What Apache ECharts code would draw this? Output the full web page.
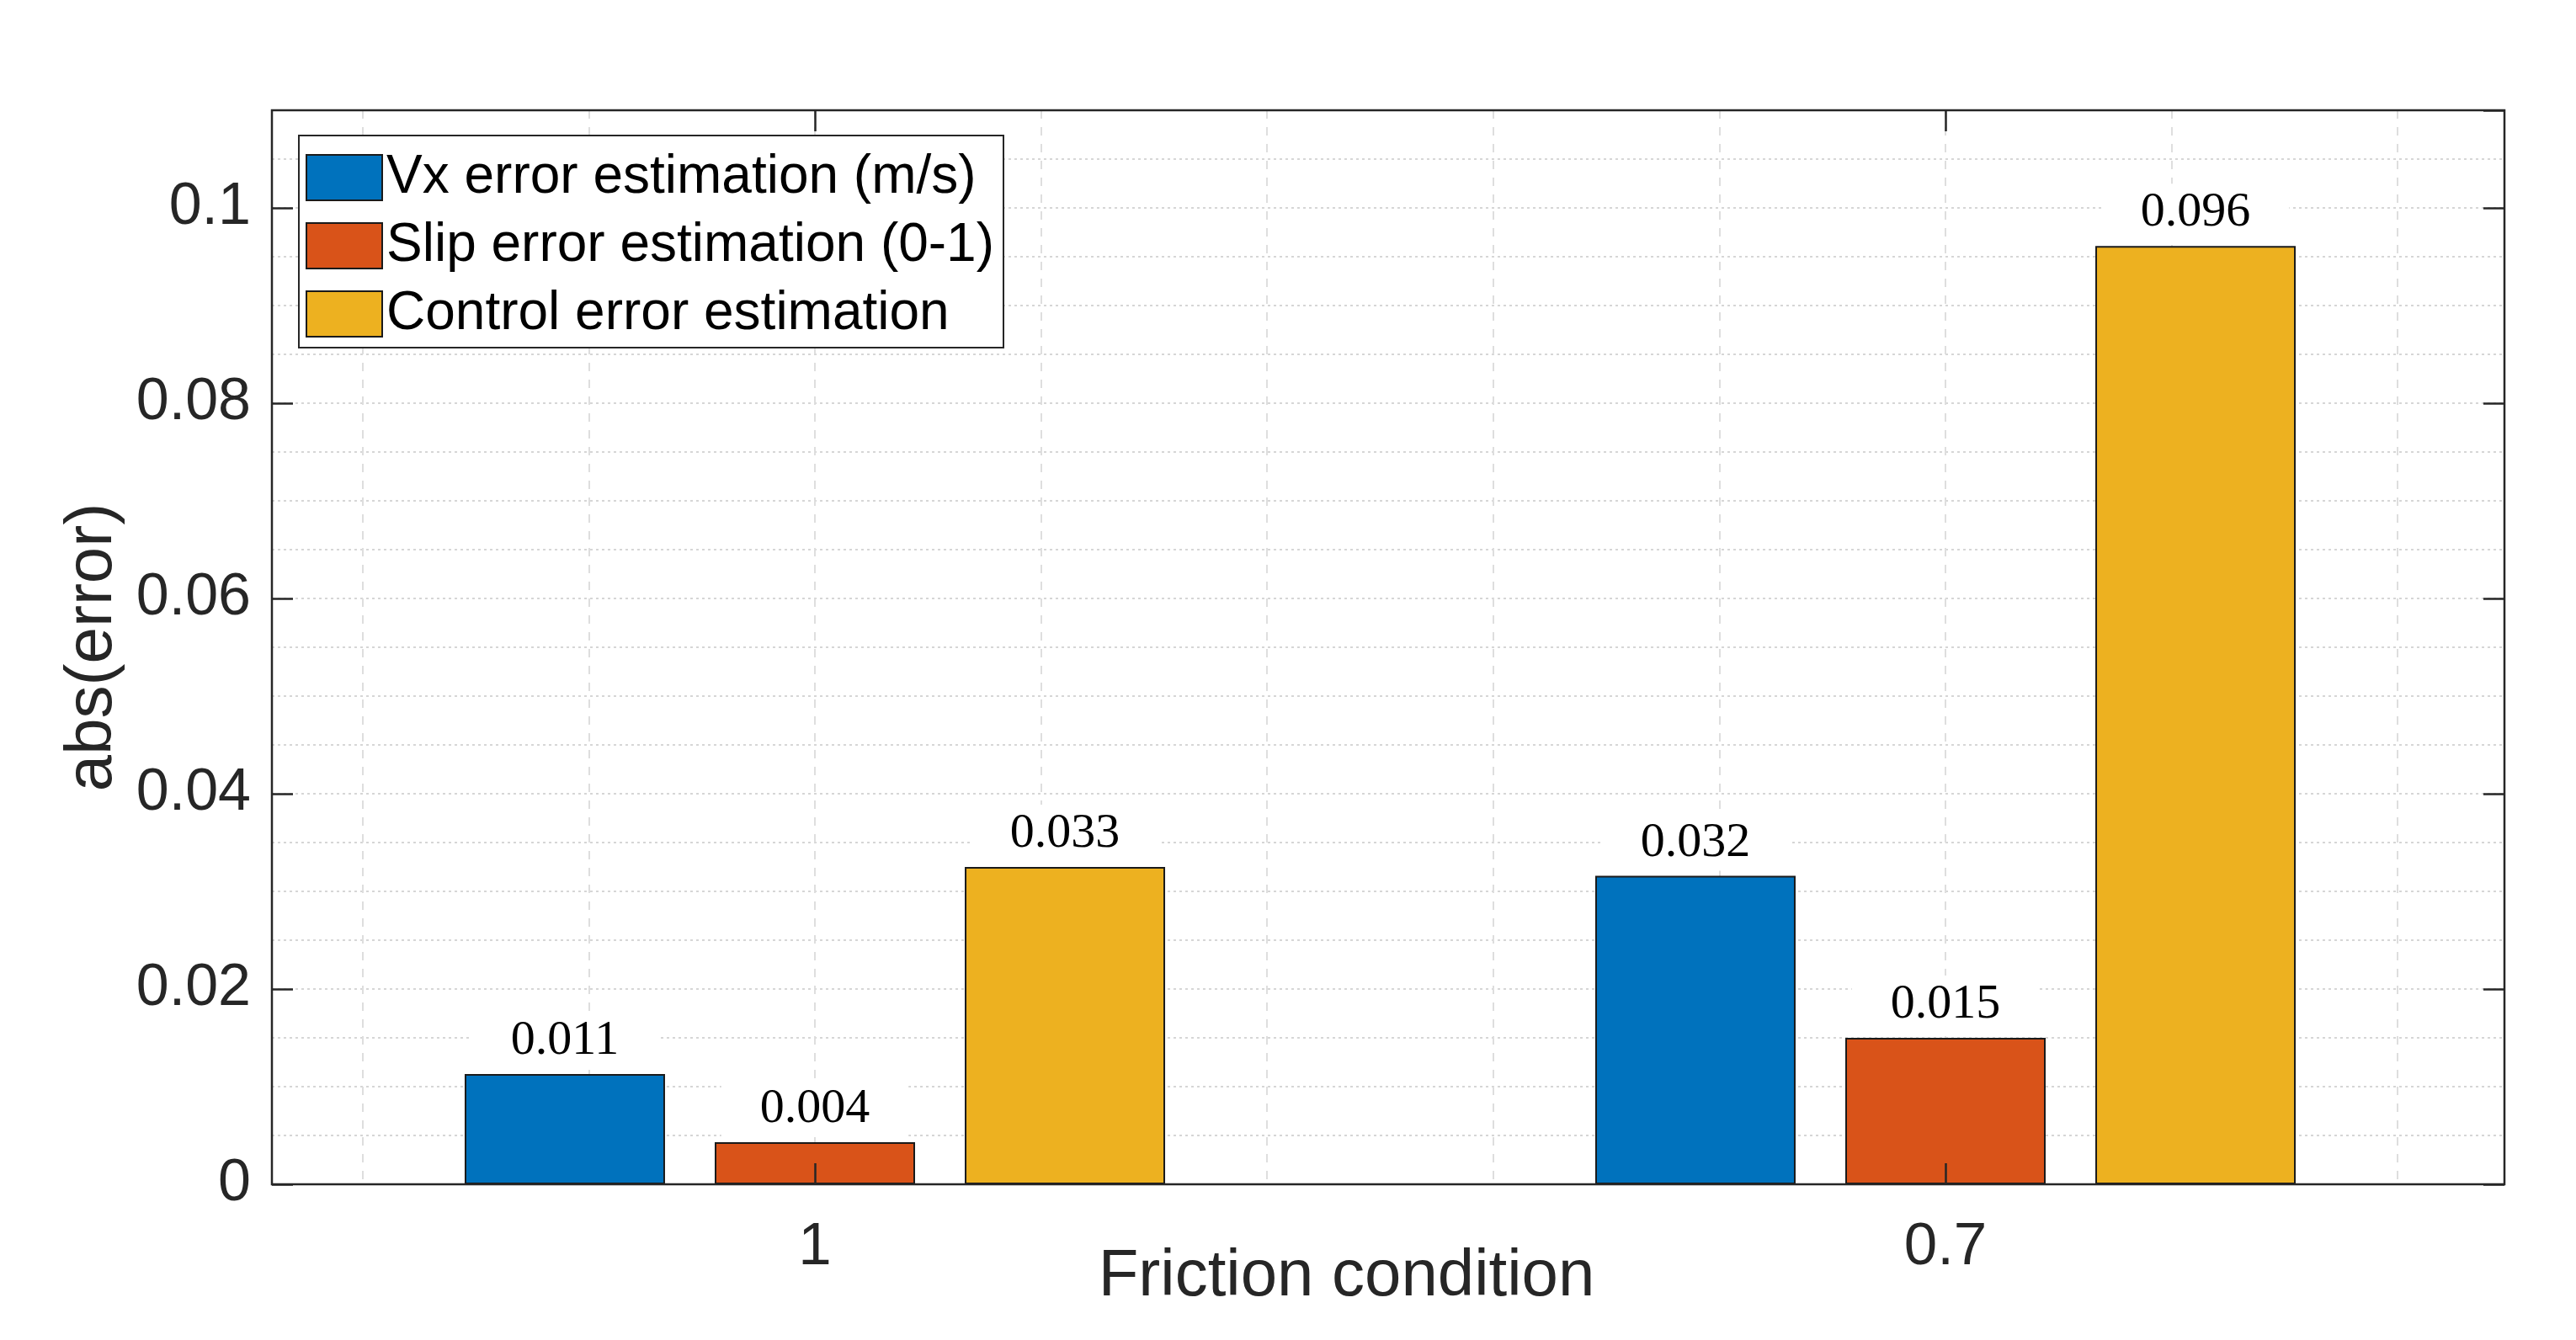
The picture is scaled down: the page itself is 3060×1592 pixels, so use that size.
<!DOCTYPE html>
<html>
<head>
<meta charset="utf-8">
<script src="https://cdn.jsdelivr.net/npm/echarts@6/dist/echarts.min.js"></script>
<style>
  html, body { margin: 0; padding: 0; background: #ffffff; }
  #chart { width: 3060px; height: 1592px; }
</style>
</head>
<body>
<div id="chart"></div>
<script>
// ---- data ----
const categories = ['1', '0.7'];
const seriesNames = ['Vx error estimation (m/s)', 'Slip error estimation (0-1)', 'Control error estimation'];
const vxError = [0.0113, 0.0316];
const slipError = [0.0043, 0.0150];
const controlError = [0.0325, 0.0961];
const yTickValues = [0, 0.02, 0.04, 0.06, 0.08, 0.1];
const colors = ['#0072BD', '#D95319', '#EDB120'];

const AX = '#262626';
const SANS = 'Liberation Sans, Arial, Helvetica, sans-serif';
const SERIF = 'Liberation Serif, Times New Roman, serif';
const YMAX = 0.11;
const TOP = 131, BOTTOM = 185;

const chart = echarts.init(document.getElementById('chart'), null, { renderer: 'canvas' });

function barSeries(name, data, color) {
  return {
    name: name,
    type: 'bar',
    xAxisIndex: 1,
    yAxisIndex: 3,
    data: data,
    barWidth: 238,
    barGap: '24.8%',
    itemStyle: { color: color, borderColor: '#1a1a1a', borderWidth: 2 },
    label: {
      show: true,
      position: 'top',
      distance: 6,
      formatter: p => (Math.round(p.value * 1000) / 1000).toFixed(3),
      fontFamily: SERIF,
      fontSize: 58,
      color: '#000',
      backgroundColor: '#ffffff',
      padding: [6, 46, 4, 46]
    },
    emphasis: { disabled: true }
  };
}

const gridBase = { top: TOP, bottom: BOTTOM, outerBoundsMode: 'none', containLabel: false };

const option = {
  backgroundColor: '#ffffff',
  animation: false,
  grid: [
    Object.assign({ left: 323, right: 85, show: true, borderColor: AX, borderWidth: 2.5, backgroundColor: 'transparent', z: 5 }, gridBase),
    Object.assign({ left: 296.5, right: 77.5 }, gridBase),
    Object.assign({ left: 430.8, right: 211.8 }, gridBase)
  ],
  legend: {
    orient: 'vertical',
    left: 355,
    top: 161,
    padding: [18, 11, 8, 8],
    itemWidth: 90,
    itemHeight: 54,
    itemGap: 17,
    icon: 'rect',
    backgroundColor: '#ffffff',
    borderColor: AX,
    borderWidth: 2,
    borderRadius: 0,
    textStyle: { fontFamily: SANS, fontSize: 64, color: '#000' },
    data: seriesNames,
    z: 20
  },
  xAxis: [
    { gridIndex: 0, type: 'value', min: 0, max: 1, show: false },
    {
      gridIndex: 1, type: 'category', data: categories, position: 'bottom', z: 10,
      axisLine: { show: false },
      axisTick: { show: true, inside: true, length: 25, alignWithLabel: true, lineStyle: { color: AX, width: 2.5 } },
      axisLabel: { margin: 40, fontFamily: SANS, fontSize: 71, color: AX },
      splitLine: { show: false },
      name: 'Friction condition',
      nameLocation: 'middle',
      nameGap: 71,
      nameMoveOverlap: false,
      nameTextStyle: { fontFamily: SANS, fontSize: 78, color: AX, padding: [0, 80, 0, 0] }
    },
    {
      gridIndex: 1, type: 'category', data: categories, position: 'top', z: 10,
      axisLine: { show: false },
      axisTick: { show: true, inside: true, length: 25, alignWithLabel: true, lineStyle: { color: AX, width: 2.5 } },
      axisLabel: { show: false },
      splitLine: { show: false }
    },
    {
      gridIndex: 2, type: 'value', min: 0.6, max: 2.4, interval: 0.2,
      axisLine: { show: false }, axisTick: { show: false }, axisLabel: { show: false },
      splitLine: { show: true, lineStyle: { color: '#dedede', width: 2, type: [10, 10] } }
    }
  ],
  yAxis: [
    {
      gridIndex: 0, type: 'value', min: 0, max: YMAX, interval: 0.02, position: 'left', z: 10,
      axisLine: { show: false },
      axisTick: { show: true, inside: true, length: 25, lineStyle: { color: AX, width: 2.5 } },
      axisLabel: {
        margin: 25, fontFamily: SANS, fontSize: 70, color: AX, showMaxLabel: false,
        formatter: v => (yTickValues.some(t => Math.abs(t - v) < 1e-9) ? String(+v.toFixed(4)) : '')
      },
      splitLine: { show: false },
      name: 'abs(error)',
      nameLocation: 'middle',
      nameGap: 174,
      nameMoveOverlap: false,
      nameTextStyle: { fontFamily: SANS, fontSize: 78, color: AX }
    },
    {
      gridIndex: 0, type: 'value', min: 0, max: YMAX, interval: 0.02, position: 'right', z: 10,
      axisLine: { show: false },
      axisTick: { show: true, inside: true, length: 25, lineStyle: { color: AX, width: 2.5 } },
      axisLabel: { show: false },
      splitLine: { show: false }
    },
    {
      gridIndex: 0, type: 'value', min: 0, max: YMAX, interval: 0.005, position: 'left',
      axisLine: { show: false }, axisTick: { show: false }, axisLabel: { show: false },
      splitLine: { show: true, lineStyle: { color: '#d6d6d6', width: 2, type: [3, 4] } }
    },
    { gridIndex: 1, type: 'value', min: 0, max: YMAX, show: false },
    { gridIndex: 2, type: 'value', min: 0, max: YMAX, show: false }
  ],
  series: [
    barSeries(seriesNames[0], vxError, colors[0]),
    barSeries(seriesNames[1], slipError, colors[1]),
    barSeries(seriesNames[2], controlError, colors[2])
  ]
};

chart.setOption(option);
</script>
</body>
</html>
